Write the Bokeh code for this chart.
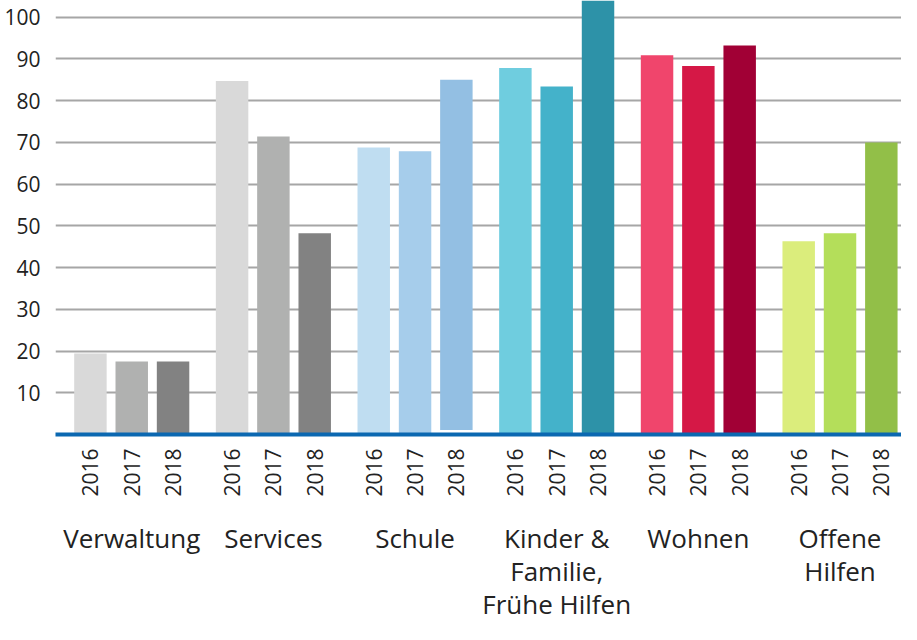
import math
from bokeh.plotting import figure
from bokeh.models import FixedTicker, LinearAxis, Range1d, ColumnDataSource
from bokeh.embed import file_html
from bokeh.resources import INLINE

categories = ["Verwaltung", "Services", "Schule", "Kinder &\nFamilie,\nFrühe Hilfen", "Wohnen", "Offene\nHilfen"]
years = ["2016", "2017", "2018"]
values_2016 = [19.4, 84.7, 68.8, 87.8, 90.9, 46.3]
values_2017 = [17.5, 71.4, 67.9, 83.4, 88.3, 48.2]
values_2018 = [17.5, 48.2, 85.0, 104.0, 93.2, 70.0]
bottoms_2018 = [0, 0, 1.1, 0, 0, 0]
colors_2016 = ["#d9d9d9", "#d9d9d9", "#bfddf1", "#6fcddf", "#f0456c", "#dbed7c"]
colors_2017 = ["#b0b1b0", "#b0b1b0", "#a6cdeb", "#44b2ca", "#d51846", "#b4de5a"]
colors_2018 = ["#828282", "#828282", "#93bfe3", "#2d92a8", "#a10035", "#92bf48"]
y_ticks = [10, 20, 30, 40, 50, 60, 70, 80, 90, 100]

FONT = "Open Sans"
GROUP_PITCH = 144
BAR_PITCH = 42

xs, tops, bottoms, cols = [], [], [], []
year_ticks, year_over = [], {}
for g in range(len(categories)):
    series = [(values_2016[g], 0, colors_2016[g]),
              (values_2017[g], 0, colors_2017[g]),
              (values_2018[g], bottoms_2018[g], colors_2018[g])]
    for k, (v, b, c) in enumerate(series):
        x = g * GROUP_PITCH + k * BAR_PITCH
        xs.append(x); tops.append(v); bottoms.append(b); cols.append(c)
        year_ticks.append(x)
        year_over[x] = years[k]

cat_ticks = [g * GROUP_PITCH + BAR_PITCH for g in range(len(categories))]
cat_over = {t: c for t, c in zip(cat_ticks, categories)}

p = figure(width=901, height=624, x_range=Range1d(-35.5, 824.5), y_range=Range1d(0, 104),
           output_backend="svg", toolbar_location=None, x_axis_location=None,
           min_border_left=55, min_border_right=0, min_border_top=0, min_border_bottom=170)
p.outline_line_color = None
p.background_fill_color = "white"
p.border_fill_color = "white"

p.xgrid.grid_line_color = None
p.ygrid.ticker = FixedTicker(ticks=y_ticks)
p.ygrid.grid_line_color = "#a6a6a6"
p.ygrid.grid_line_width = 2

yax = p.yaxis[0]
yax.ticker = FixedTicker(ticks=y_ticks)
yax.axis_line_color = None
yax.major_tick_line_color = None
yax.minor_tick_line_color = None
yax.major_label_text_font = FONT
yax.major_label_text_font_size = "21px"
yax.major_label_text_color = "#222222"
yax.major_label_standoff = 9

src = ColumnDataSource(dict(x=xs, top=tops, bottom=bottoms, color=cols))
p.vbar(x="x", top="top", bottom="bottom", width=33, fill_color="color", line_color=None, source=src)

yr_axis = LinearAxis(ticker=FixedTicker(ticks=year_ticks), major_label_overrides=year_over)
yr_axis.axis_line_color = "#0b68b1"
yr_axis.axis_line_width = 4
yr_axis.major_tick_line_color = None
yr_axis.minor_tick_line_color = None
yr_axis.major_label_orientation = math.pi / 2
yr_axis.major_label_text_font = FONT
yr_axis.major_label_text_font_size = "21px"
yr_axis.major_label_text_color = "#222222"
yr_axis.major_label_standoff = 8
p.add_layout(yr_axis, "below")

cat_axis = LinearAxis(ticker=FixedTicker(ticks=cat_ticks), major_label_overrides=cat_over)
cat_axis.axis_line_color = None
cat_axis.major_tick_line_color = None
cat_axis.minor_tick_line_color = None
cat_axis.major_label_text_font = FONT
cat_axis.major_label_text_font_size = "26px"
cat_axis.major_label_text_color = "#222222"
cat_axis.major_label_text_line_height = 0.92
cat_axis.major_label_standoff = 14
p.add_layout(cat_axis, "below")

open("out.html", "w").write(file_html(p, INLINE))
